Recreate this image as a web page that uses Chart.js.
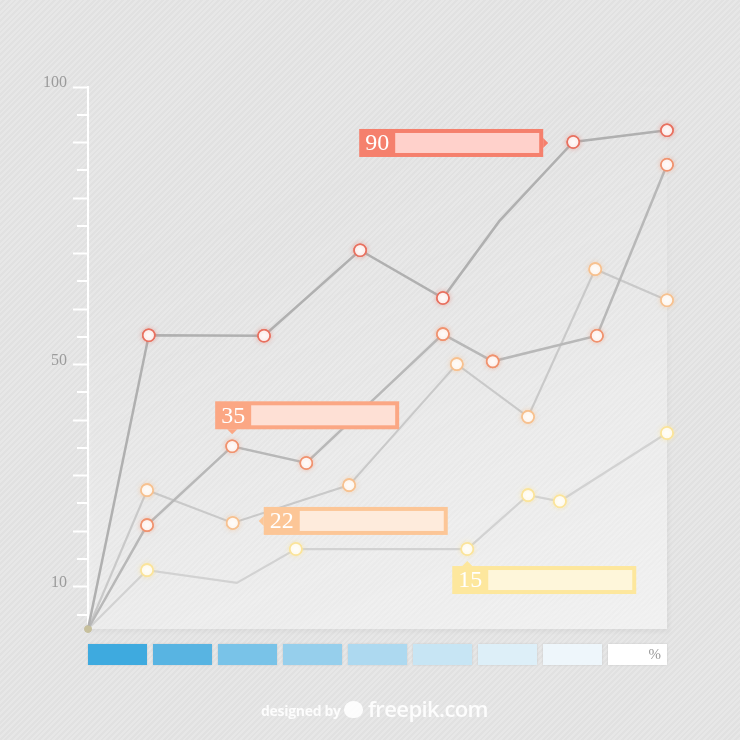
<!DOCTYPE html>
<html>
<head>
<meta charset="utf-8">
<script src="https://cdn.jsdelivr.net/npm/chart.js@4.4.1/dist/chart.umd.min.js"></script>
<style>
html,body{margin:0;padding:0;}
body{width:740px;height:740px;overflow:hidden;position:relative;
  background:#e4e4e4 repeating-linear-gradient(135deg,#e7e7e7 0px,#e7e7e7 2px,#e1e1e1 2px,#e1e1e1 4px);}
#c{position:absolute;left:0;top:0;}
#scale{position:absolute;left:88px;top:644px;display:flex;gap:6px;}
#scale div{width:59px;height:21px;box-shadow:0 0 2px rgba(0,0,0,0.12);font:15px 'Liberation Serif',serif;color:#999;
  text-align:right;line-height:21px;box-sizing:border-box;padding-right:6px;}
#wm{position:absolute;left:261px;top:694px;color:rgba(255,255,255,0.9);white-space:nowrap;}
#wm .d{font:bold 14px 'Open Sans',sans-serif;position:absolute;left:0;top:7px;letter-spacing:-0.3px;}
#wm .logo{position:absolute;left:83px;top:7px;width:19px;height:17px;border-radius:50% 50% 45% 45%;background:rgba(255,255,255,0.9);}
#wm .f{font:600 22px 'Open Sans',sans-serif;position:absolute;left:107px;top:-1px;letter-spacing:-0.6px;}
</style>
</head>
<body>
<canvas id="c" width="740" height="740"></canvas>
<div id="scale"></div>
<div id="wm"><span class="d">designed by</span><span class="logo"></span><span class="f">freepik.com</span></div>
<script>
// ---- data ----
const yLabelTicks = [100, 50, 10];
const yMin = 2.4, yMax = 100;

const redX    = [0, 10.5, 30.4, 47.0, 61.3, 71.0, 83.8, 100];
const redY    = [2.4, 55.3, 55.2, 70.6, 62.0, 75.8, 90.1, 92.2];
const salmonX = [0, 10.2, 24.9, 37.7, 61.3, 69.9, 87.9, 100];
const salmonY = [2.4, 21.1, 35.3, 32.3, 55.5, 50.6, 55.2, 86.0];
const peachX  = [0, 10.2, 25.0, 45.1, 63.7, 76.0, 87.6, 100];
const peachY  = [2.4, 27.4, 21.5, 28.3, 50.1, 40.6, 67.2, 61.6];
const yellowX = [0, 10.2, 25.7, 35.9, 65.5, 76.0, 81.5, 100];
const yellowY = [2.4, 13.0, 10.7, 16.8, 16.8, 26.5, 25.4, 37.7];

const calloutLabels = ['90', '35', '22', '15'];
const calloutIndex  = [6, 2, 2, 4];

const scaleColors = ['#3eaadf','#58b4e2','#79c3e8','#96cfec','#add9f0','#c7e5f4','#ddeff8','#eef6fb','#ffffff'];
const scaleLabels = ['','','','','','','','','%'];

// ---- styles ----
const series = [
  {x: redX, y: redY, line: '#b0b0b0', lw: 2.5, point: '#e8705f', glow: 'rgba(232,112,95,0.45)', box: '#f5806d', inner: '#ffd1cb', bend: [5], side: 'left'},
  {x: salmonX, y: salmonY, line: '#b8b8b8', lw: 2.5, point: '#f0926e', glow: 'rgba(240,146,110,0.45)', box: '#fba784', inner: '#fee0d5', bend: [], side: 'top'},
  {x: peachX, y: peachY, line: '#c9c9c9', lw: 2.2, point: '#f7c18f', glow: 'rgba(247,193,143,0.5)', box: '#fcc697', inner: '#feebdc', bend: [], side: 'right'},
  {x: yellowX, y: yellowY, line: '#d2d2d2', lw: 2.2, point: '#fbe49a', glow: 'rgba(251,228,154,0.6)', box: '#fde79d', inner: '#fef6da', bend: [2], side: 'bottom'}
];

const scaleEl = document.getElementById('scale');
scaleColors.forEach((c, i) => {
  const d = document.createElement('div');
  d.style.background = c;
  d.textContent = scaleLabels[i];
  scaleEl.appendChild(d);
});

const datasets = series.map(s => ({
  data: s.x.map((x, i) => ({x, y: s.y[i]})),
  borderColor: s.line,
  borderWidth: s.lw,
  tension: 0,
  clip: false,
  pointRadius: ctx => ctx.dataIndex === 0 ? 3.5 : (s.bend.includes(ctx.dataIndex) ? 0 : 6),
  pointBorderWidth: ctx => ctx.dataIndex === 0 ? 0 : 1.6,
  pointBorderColor: s.point,
  pointBackgroundColor: ctx => ctx.dataIndex === 0 ? '#c7c09d' : '#ffffff'
}));

const panelPlugin = {
  id: 'panel',
  beforeDatasetsDraw(chart) {
    const {ctx, chartArea: a} = chart;
    ctx.save();
    const g = ctx.createLinearGradient(a.right, a.bottom, a.right - 200, a.top);
    g.addColorStop(0, 'rgba(255,255,255,0.62)');
    g.addColorStop(0.4, 'rgba(255,255,255,0.42)');
    g.addColorStop(0.85, 'rgba(255,255,255,0.06)');
    g.addColorStop(1, 'rgba(255,255,255,0)');
    ctx.shadowColor = 'rgba(0,0,0,0.07)';
    ctx.shadowBlur = 4;
    ctx.shadowOffsetX = 2;
    ctx.shadowOffsetY = 3;
    ctx.fillStyle = g;
    ctx.fillRect(a.left, a.top, a.right - a.left, a.bottom - a.top);
    ctx.restore();
  }
};

const shortTicksPlugin = {
  id: 'shortTicks',
  afterDraw(chart) {
    const sc = chart.scales.y, ctx = chart.ctx;
    ctx.save();
    ctx.strokeStyle = '#ffffff';
    ctx.lineWidth = 2;
    for (let v = 5; v < 100; v += 10) {
      const py = Math.round(sc.getPixelForValue(v));
      ctx.beginPath();
      ctx.moveTo(sc.right - 11, py);
      ctx.lineTo(sc.right, py);
      ctx.stroke();
    }
    ctx.restore();
  }
};

const glowPlugin = {
  id: 'glow',
  afterDatasetsDraw(chart) {
    const ctx = chart.ctx;
    for (let di = chart.data.datasets.length - 1; di >= 0; di--) {
      const meta = chart.getDatasetMeta(di);
      meta.data.forEach((pt, i) => {
        if (i === 0) return;
        ctx.save();
        ctx.shadowColor = series[di].glow;
        ctx.shadowBlur = 5;
        pt.draw(ctx, chart.chartArea);
        ctx.restore();
      });
    }
    // callouts
    series.forEach((s, di) => {
      const pt = chart.getDatasetMeta(di).data[calloutIndex[di]];
      const px = pt.x, py = pt.y;
      const W = 184, H = 28;
      let L, T;
      if (s.side === 'left') { L = px - 30 - W; T = py - 13; }
      else if (s.side === 'top') { L = px - 17; T = py - 17 - H; }
      else if (s.side === 'right') { L = px + 31; T = py - 16; }
      else { L = px - 15; T = py + 17; }
      ctx.save();
      ctx.fillStyle = s.box;
      ctx.fillRect(L, T, W, H);
      ctx.beginPath();
      if (s.side === 'left') { ctx.moveTo(L + W, T + H/2 - 5); ctx.lineTo(L + W + 5, T + H/2); ctx.lineTo(L + W, T + H/2 + 5); }
      else if (s.side === 'top') { ctx.moveTo(px - 5, T + H); ctx.lineTo(px, T + H + 5); ctx.lineTo(px + 5, T + H); }
      else if (s.side === 'right') { ctx.moveTo(L, T + H/2 - 5); ctx.lineTo(L - 5, T + H/2); ctx.lineTo(L, T + H/2 + 5); }
      else { ctx.moveTo(px - 5, T); ctx.lineTo(px, T - 5); ctx.lineTo(px + 5, T); }
      ctx.closePath();
      ctx.fill();
      ctx.fillStyle = s.inner;
      ctx.fillRect(L + 36, T + 4, W - 40, H - 8);
      ctx.fillStyle = '#ffffff';
      ctx.font = '24px "Liberation Serif", serif';
      ctx.textBaseline = 'middle';
      ctx.textAlign = 'left';
      ctx.fillText(calloutLabels[di], L + 6, T + H/2 + 1);
      ctx.restore();
    });
  }
};

new Chart(document.getElementById('c'), {
  type: 'line',
  data: {datasets},
  options: {
    responsive: false,
    animation: false,
    events: [],
    layout: {padding: {top: 87, right: 73, bottom: 111, left: 0}},
    plugins: {legend: {display: false}, tooltip: {enabled: false}},
    scales: {
      x: {type: 'linear', min: 0, max: 100, display: false},
      y: {
        type: 'linear', min: yMin, max: yMax,
        afterFit: sc => { sc.width = 88; },
        afterBuildTicks: sc => { sc.ticks = [10,20,30,40,50,60,70,80,90,100].map(v => ({value: v})); },
        border: {display: true, color: '#ffffff', width: 2},
        grid: {display: true, drawOnChartArea: false, drawTicks: true, tickLength: 15, tickColor: '#ffffff', tickWidth: 2},
        ticks: {
          padding: 6,
          labelOffset: -4,
          color: '#9b9b9b',
          font: {family: '"Liberation Serif", serif', size: 16},
          callback: v => yLabelTicks.includes(v) ? String(v) : ''
        }
      }
    }
  },
  plugins: [panelPlugin, shortTicksPlugin, glowPlugin]
});
</script>
</body>
</html>
